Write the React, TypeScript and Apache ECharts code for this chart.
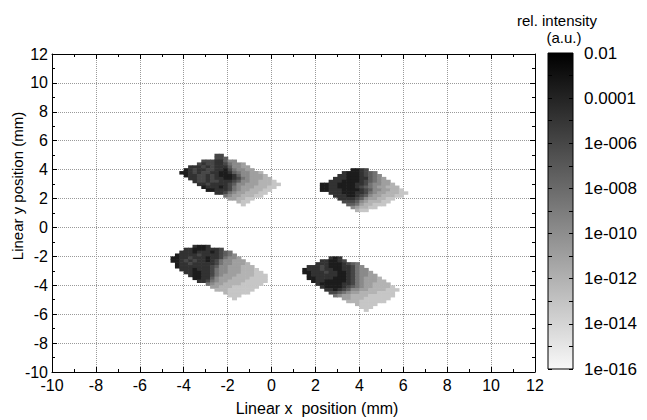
import React, { useEffect, useRef } from "react";
import * as echarts from "echarts";

// Grid cell size (mm) of the measured intensity map
const CELL = 0.2;

// log10(intensity) for each grey level code '0'..'9'
const LEVEL_LOG = [-3.6, -4.8, -6.0, -7.3, -8.5, -9.8, -11.0, -12.1, -13.2, -14.3];

// Colour bar ticks (log10) and their labels
const COLORBAR_TICKS = [-16, -14, -12, -10, -8, -6, -4, -2];
const COLORBAR_LABELS = ["1e-016", "1e-014", "1e-012", "1e-010", "1e-008", "1e-006", "0.0001", "0.01"];

// Top-left spot: first cell centre (x, y) and rows of grey codes ('.' = no data)
const TL_ORIGIN = [-4.1, 5.0];
const TL_ROWS = [
  "........22.............",
  "........223............",
  ".....22211355..........",
  "....21221124556........",
  "..11121211135566.......",
  ".0121122110245566......",
  "0012122110013455667....",
  ".0112212100013556667...",
  "..1122121100124566677..",
  "...1221221112355667778.",
  "....1121111235566677788",
  ".....01110124566677788.",
  "......001112456677788..",
  "........112456677788...",
  "..........456677788....",
  "...........667788......",
  ".............788.......",
  "..............8........",
];

// Top-right spot
const TR_ORIGIN = [2.1, 4.0];
const TR_ROWS = [
  "........0012.........",
  "......10001234.......",
  ".....1100012345......",
  "....111000113456.....",
  "...11100001234566....",
  ".00110000112455667...",
  ".001100001234566777..",
  ".0011100001235566778.",
  "...111000112456677788",
  "....1110012356677788.",
  ".....1111235667788...",
  "......22235677788....",
  ".......334677888.....",
  "........567788.......",
  ".........788.........",
];

// Bottom-left spot
const BL_ORIGIN = [-4.5, -1.3];
const BL_ROWS = [
  ".....1001.............",
  "...110001112..........",
  "..111011101234........",
  ".01111211112345.......",
  "0011211101124556......",
  "00121211012455666.....",
  ".01121111124556667....",
  ".011111112355666777...",
  "..111011124556667778..",
  "...110011245566677788.",
  "....100112456667777888",
  ".....00113566677778888",
  "......1124566777788888",
  "........4566777788888.",
  ".........66777888888..",
  "..........777888888...",
  "............788888....",
  ".............888......",
  "..............8.......",
];

// Bottom-right spot
const BR_ORIGIN = [1.5, -2.1];
const BR_ROWS = [
  "......101.............",
  "....110012............",
  "...1110001234.........",
  ".1112100011245........",
  "011121100112455.......",
  "0011121100124556......",
  ".0111111001245566.....",
  ".00111100012456667....",
  "..01100000124566677...",
  "...10000011245667777..",
  "....10000123456677778.",
  ".....11012355667777888",
  "......223456677778888.",
  ".......45667777888888.",
  ".........66777888888..",
  "..........777888888...",
  "............78888.....",
  ".............888......",
  "..............8.......",
];

const FONT = "'Liberation Sans', Arial, Helvetica, sans-serif";

function cells(rows: string[], origin: number[]) {
  const out: number[][] = [];
  rows.forEach((row, r) => {
    for (let c = 0; c < row.length; c++) {
      const ch = row[c];
      if (ch === ".") continue;
      const x = Math.round((origin[0] + c * CELL) * 100) / 100;
      const y = Math.round((origin[1] - r * CELL) * 100) / 100;
      out.push([x, y, LEVEL_LOG[Number(ch)]]);
    }
  });
  return out;
}

export default function App() {
  const ref = useRef<HTMLDivElement>(null);

  useEffect(() => {
    if (!ref.current) return;
    const chart = echarts.init(ref.current, undefined, { renderer: "svg" });
    const data = [
      ...cells(TL_ROWS, TL_ORIGIN),
      ...cells(TR_ROWS, TR_ORIGIN),
      ...cells(BL_ROWS, BL_ORIGIN),
      ...cells(BR_ROWS, BR_ORIGIN),
    ];

    const tickStyle = { color: "#000", width: 1 };
    const plotAxis = (gridIndex: number, position: string, labels: boolean, margin: number) => ({
      gridIndex,
      type: "value",
      position,
      min: -10,
      max: 12,
      interval: 2,
      axisLine: { show: true, onZero: false, lineStyle: { color: "#000", width: 1 } },
      axisTick: { show: true, inside: true, length: 5, lineStyle: tickStyle },
      minorTick: { show: true, splitNumber: 2, length: 3, lineStyle: tickStyle },
      splitLine: { show: labels, lineStyle: { color: "#9a9a9a", type: "dotted", width: 1 } },
      minorSplitLine: { show: false },
      axisLabel: { show: labels, color: "#000", fontSize: 16, fontFamily: FONT, margin },
    });
    const barY = (position: string, labels: boolean) => ({
      gridIndex: 1,
      type: "value",
      position,
      min: -16,
      max: -2,
      interval: 2,
      axisLine: { show: false },
      axisTick: { show: true, inside: true, length: 4, lineStyle: tickStyle },
      minorTick: { show: true, splitNumber: 2, length: 4, lineStyle: tickStyle },
      splitLine: { show: false },
      axisLabel: {
        show: labels,
        color: "#000",
        fontSize: 17,
        fontFamily: FONT,
        margin: 11,
        formatter: (v: number) => {
          const i = COLORBAR_TICKS.indexOf(Math.round(v));
          return i >= 0 ? COLORBAR_LABELS[i] : "";
        },
      },
    });

    chart.setOption({
      animation: false,
      backgroundColor: "#ffffff",
      textStyle: { fontFamily: FONT },
      grid: [
        { left: 52, top: 54, width: 483, height: 318, show: false },
        {
          left: 548,
          top: 53,
          width: 25,
          height: 316,
          show: true,
          borderColor: "#000",
          borderWidth: 1,
          backgroundColor: new echarts.graphic.LinearGradient(0, 0, 0, 1, [
            { offset: 0, color: "#000000" },
            { offset: 1, color: "#f8f8f8" },
          ]),
        },
      ],
      xAxis: [
        plotAxis(0, "bottom", true, 5),
        plotAxis(0, "top", false, 5),
        { gridIndex: 1, type: "value", min: 0, max: 1, show: false },
      ],
      yAxis: [plotAxis(0, "left", true, 4), plotAxis(0, "right", false, 4), barY("left", false), barY("right", true)],
      visualMap: {
        show: false,
        type: "continuous",
        min: -16,
        max: -2,
        dimension: 2,
        seriesIndex: 0,
        inRange: { color: ["#f8f8f8", "#000000"] },
      },
      series: [
        {
          type: "custom",
          xAxisIndex: 0,
          yAxisIndex: 0,
          data,
          encode: { x: 0, y: 1 },
          clip: true,
          renderItem: (params: any, api: any) => {
            const x = api.value(0);
            const y = api.value(1);
            const p0 = api.coord([x - CELL / 2, y + CELL / 2]);
            const p1 = api.coord([x + CELL / 2, y - CELL / 2]);
            return {
              type: "rect",
              shape: { x: p0[0], y: p0[1], width: p1[0] - p0[0] + 0.6, height: p1[1] - p0[1] + 0.6 },
              style: { fill: api.visual("color") },
            };
          },
        },
      ],
      graphic: [
        {
          type: "text",
          x: 557,
          y: 20,
          style: { text: "rel. intensity", font: `15px ${FONT}`, fill: "#000", align: "center", verticalAlign: "middle" },
        },
        {
          type: "text",
          x: 564,
          y: 37,
          style: { text: "(a.u.)", font: `15px ${FONT}`, fill: "#000", align: "center", verticalAlign: "middle" },
        },
        {
          type: "text",
          x: 317,
          y: 408,
          style: { text: "Linear x  position (mm)", font: `16px ${FONT}`, fill: "#000", align: "center", verticalAlign: "middle" },
        },
        {
          type: "text",
          x: 17,
          y: 186,
          rotation: Math.PI / 2,
          style: { text: "Linear y position (mm)", font: `15px ${FONT}`, fill: "#000", align: "center", verticalAlign: "middle" },
        },
      ],
    });
    return () => chart.dispose();
  }, []);

  return (
    <div
      ref={ref}
      style={{ position: "fixed", left: 0, top: 0, width: 647, height: 420, background: "#fff" }}
    />
  );
}
